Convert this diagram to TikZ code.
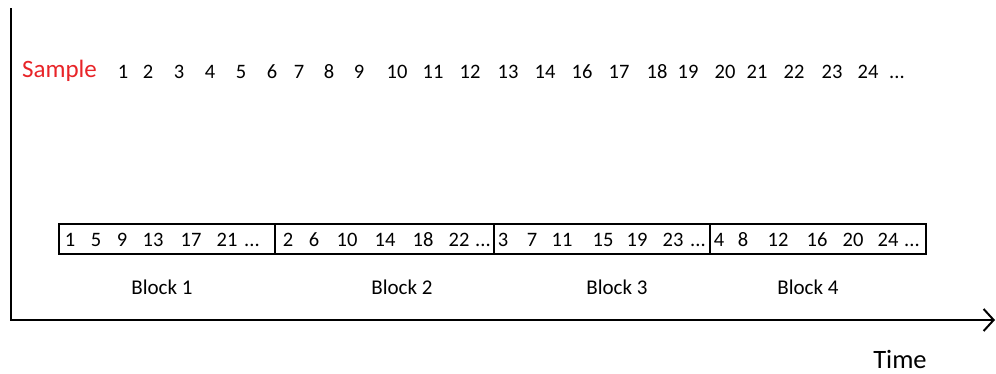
\documentclass[tikz,border=0pt]{standalone}
\usepackage{fontspec}
\setmainfont{Carlito}
\usetikzlibrary{arrows.meta, positioning}
\definecolor{samplered}{RGB}{232,36,40}
\newcommand{\etcdots}{...}

\begin{document}
\begin{tikzpicture}[x=1pt,y=-1pt,
    num/.style={inner sep=0pt,anchor=base,font=\fontsize{20.5}{20}\selectfont},
    blockbox/.style={draw,line width=2.8pt,minimum height=30pt,inner sep=0pt,outer sep=0pt,anchor=west},
    blocklabel/.style={font=\fontsize{21}{21}\selectfont}]
    \useasboundingbox (0,0) rectangle (996,373);

    % eixos
    \coordinate(top) at (11,8);
    \coordinate(origin) at (11,320);
    \coordinate(tip) at (995,320);
    \draw[line width=2pt,-{Straight Barb[length=10pt,width=22pt,line width=2pt]}]
        (top) -- (origin) -- (tip);

    \node[samplered,anchor=west,inner sep=0pt,font=\fontsize{25}{25}\selectfont] (sample) at (22,71) {Sample};

    % amostras na ordem original
    \foreach \x/\t [count=\i] in {123/1,148/2,179/3,210/4,241/5,272/6,299/7,329/8,359/9,397/10,
        433/11,470/12,508/13,545/14,582/16,619/17,657/18,688/19,725/20,757/21,794/22,832/23,868/24,897/\etcdots}
        \node[num] (s\i) at (\x,78.5) {\t};

    % os quatro blocos
    \node[blockbox,minimum width=216pt] (blk1) at (59,239) {};
    \node[blockbox,minimum width=219pt] (blk2) at (blk1.east) {};
    \node[blockbox,minimum width=216pt] (blk3) at (blk2.east) {};
    \node[blockbox,minimum width=216pt] (blk4) at (blk3.east) {};

    \foreach \x/\t [count=\i] in {70/1,96/5,122/9,153/13,191/17,227/21,252/\etcdots,
        288/2,314/6,347/10,385/14,423/18,459/22,483/\etcdots,
        503/3,532/7,562/11,603/15,637/19,673/23,698/\etcdots,
        719/4,743/8,778/12,817/16,853/20,888/24,912/\etcdots}
        \node[num] (b\i) at (\x,246.5) {\t};

    \node[blocklabel] (lbl1) at (162,287) {Block 1};
    \node[blocklabel] (lbl2) at (402,287) {Block 2};
    \node[blocklabel] (lbl3) at (617,287) {Block 3};
    \node[blocklabel] (lbl4) at (808,287) {Block 4};

    \node[inner sep=0pt,font=\fontsize{26.5}{26}\selectfont] (time) at (900,359) {Time};
\end{tikzpicture}
\end{document}
